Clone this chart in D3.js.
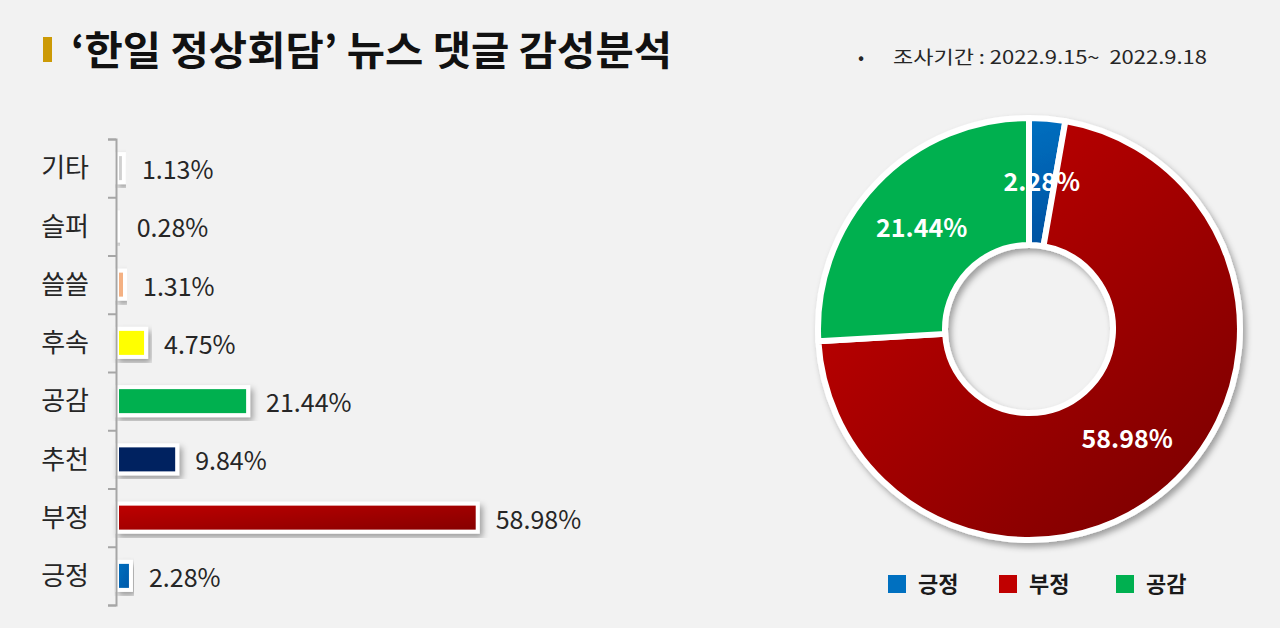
<!DOCTYPE html>
<html>
<head>
<meta charset="utf-8">
<script src="https://cdn.jsdelivr.net/npm/d3@7"></script>
<style>
  html, body { margin: 0; padding: 0; background: #f2f2f2; }
  svg { display: block; }
  text { font-family: "Noto Sans CJK KR", "Noto Sans", sans-serif; white-space: pre; }
</style>
</head>
<body>
<svg id="chart" width="1280" height="628"></svg>
<script>
// bar chart data (bottom to top as in the source sheet)
const barCategories = ['긍정', '부정', '추천', '공감', '후속', '쓸쓸', '슬퍼', '기타'];
const barValues = [2.28, 58.98, 9.84, 21.44, 4.75, 1.31, 0.28, 1.13];
const barColors = ['url(#gBlue)', 'url(#gRed)', '#002060', '#00b050', '#ffff00', '#f4b183', '#ffffff', '#d0d0d0'];

// donut data
const pieCategories = ['긍정', '부정', '공감'];
const pieValues = [2.28, 58.98, 21.44];
const pieColors = ['url(#gBluePie)', 'url(#gRedPie)', '#00b050'];
const legendColors = ['#0070c0', '#c00000', '#00b050'];

const svg = d3.select('#chart');
const defs = svg.append('defs');

// drop shadow
const shadow = defs.append('filter').attr('id', 'shadow')
  .attr('x', '-20%').attr('y', '-20%').attr('width', '140%').attr('height', '140%');
shadow.append('feDropShadow')
  .attr('dx', 3).attr('dy', 4).attr('stdDeviation', 3)
  .attr('flood-color', '#000').attr('flood-opacity', 0.35);

function gradient(id, c1, c2, units) {
  const g = defs.append('linearGradient').attr('id', id)
    .attr('x1', '0').attr('y1', '0').attr('x2', '1').attr('y2', '1');
  if (units) {
    g.attr('gradientUnits', 'userSpaceOnUse')
      .attr('x1', units[0]).attr('y1', units[1]).attr('x2', units[2]).attr('y2', units[3]);
  }
  g.append('stop').attr('offset', '0%').attr('stop-color', c1);
  g.append('stop').attr('offset', '100%').attr('stop-color', c2);
}
gradient('gRed', '#c00000', '#850000');
gradient('gBlue', '#0070c0', '#0058a8');

// title
svg.append('rect').attr('x', 43).attr('y', 37).attr('width', 9).attr('height', 25).attr('fill', '#cc9a06');
svg.append('text')
  .attr('x', 71).attr('y', 65)
  .attr('font-size', 40).attr('font-weight', 700).attr('fill', '#111')
  .attr('textLength', 601).attr('lengthAdjust', 'spacingAndGlyphs')
  .text('‘한일 정상회담’ 뉴스 댓글 감성분석');

svg.append('text')
  .attr('x', 858).attr('y', 64)
  .attr('font-size', 18).attr('fill', '#262626')
  .text('•');
svg.append('text')
  .attr('x', 893).attr('y', 64)
  .attr('font-size', 18).attr('fill', '#262626')
  .attr('textLength', 314).attr('lengthAdjust', 'spacingAndGlyphs')
  .text('조사기간 : 2022.9.15~  2022.9.18');

// ---------- bar chart ----------
const x0 = 117;
const x = d3.scaleLinear().domain([0, 58.98]).range([0, 360.7]);
const y = d3.scaleBand()
  .domain(barCategories.slice().reverse())
  .range([139, 605]);
const barH = 28;

const barG = svg.append('g');
const rows = barCategories.map((c, i) => ({ c, v: barValues[i], col: barColors[i] }));

barG.selectAll('rect.bar')
  .data(rows)
  .enter()
  .append('rect')
  .attr('class', 'bar')
  .attr('x', x0)
  .attr('y', d => y(d.c) + y.bandwidth() / 2 - barH / 2)
  .attr('width', d => x(d.v))
  .attr('height', barH)
  .attr('fill', d => d.col)
  .attr('stroke', '#fff')
  .attr('stroke-width', 4)
  .attr('filter', 'url(#shadow)');

barG.selectAll('text.val')
  .data(rows)
  .enter()
  .append('text')
  .attr('class', 'val')
  .attr('x', d => x0 + x(d.v) + 18)
  .attr('y', d => y(d.c) + y.bandwidth() / 2 + 2)
  .attr('dy', '0.36em')
  .attr('font-size', 25)
  .attr('fill', '#262626')
  .text(d => d.v.toFixed(2) + '%');

barG.selectAll('text.cat')
  .data(rows)
  .enter()
  .append('text')
  .attr('class', 'cat')
  .attr('x', 89)
  .attr('y', d => y(d.c) + y.bandwidth() / 2)
  .attr('dy', '0.36em')
  .attr('text-anchor', 'end')
  .attr('font-size', 26)
  .attr('fill', '#262626')
  .text(d => d.c);

// axis with ticks on band boundaries
const tickScale = d3.scaleLinear().domain([0, barCategories.length]).range([139, 605]);
const axis = svg.append('g')
  .attr('transform', `translate(${x0 - 1},0)`)
  .call(d3.axisLeft(tickScale).ticks(barCategories.length).tickSize(8).tickSizeOuter(8).tickFormat(''));
axis.selectAll('path, line').attr('stroke', '#a6a6a6').attr('stroke-width', 2);

// ---------- donut ----------
const cx = 1029, cy = 329;
const rOuter = 211, rInner = 84;
// gradient coordinates are in the donut group's local space (centre at 0,0)
gradient('gRedPie', '#c20000', '#780000', [-150, -160, 190, 210]);
gradient('gBluePie', '#0070c0', '#0050a0', [0, -rOuter, 40, -rInner]);

const pie = d3.pie().sort(null).value(d => d.v);
const arc = d3.arc().innerRadius(rInner).outerRadius(rOuter);
const slices = pie(pieCategories.map((c, i) => ({ c, v: pieValues[i], col: pieColors[i] })));

const pieG = svg.append('g').attr('transform', `translate(${cx},${cy})`);
pieG.append('g').attr('filter', 'url(#shadow)')
  .selectAll('path')
  .data(slices)
  .enter()
  .append('path')
  .attr('d', arc)
  .attr('fill', d => d.data.col)
  .attr('stroke', '#fff')
  .attr('stroke-width', 6)
  .attr('stroke-linejoin', 'round');

pieG.selectAll('text')
  .data(slices)
  .enter()
  .append('text')
  .attr('transform', d => `translate(${arc.centroid(d)})`)
  .attr('dy', '0.36em')
  .attr('text-anchor', 'middle')
  .attr('font-size', 25)
  .attr('font-weight', 700)
  .attr('fill', '#fff')
  .text(d => d.data.v.toFixed(2) + '%');

// legend
const legendX = [888, 999, 1116];
const legend = svg.append('g').selectAll('g')
  .data(pieCategories)
  .enter()
  .append('g')
  .attr('transform', (d, i) => `translate(${legendX[i]},575)`);
legend.append('rect').attr('width', 18).attr('height', 18)
  .attr('fill', (d, i) => legendColors[i]);
legend.append('text')
  .attr('x', 30).attr('y', 9).attr('dy', '0.36em')
  .attr('font-size', 22).attr('font-weight', 700).attr('fill', '#1a1a1a')
  .text(d => d);
</script>
</body>
</html>
